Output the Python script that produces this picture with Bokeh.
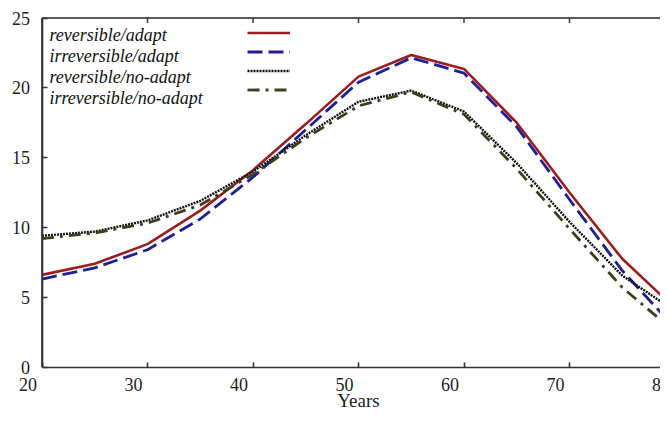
from bokeh.plotting import figure
from bokeh.models import (Range1d, FixedTicker, Legend, LegendItem,
                          LabelSet, Label, ColumnDataSource)
from bokeh.core.properties import value
from bokeh.embed import file_html
from bokeh.resources import INLINE

# ---- data ----
years = [20, 25, 30, 35, 40, 45, 50, 55, 60, 65, 70, 75, 80]
rev_adapt = [6.6, 7.4, 8.8, 11.2, 14.1, 17.4, 20.8, 22.35, 21.35, 17.5, 12.5, 7.75, 4.2]
irr_adapt = [6.3, 7.1, 8.4, 10.6, 13.6, 17.0, 20.4, 22.15, 21.05, 17.2, 12.0, 6.9, 2.8]
rev_noadapt = [9.4, 9.7, 10.5, 11.9, 14.0, 16.6, 19.0, 19.8, 18.3, 14.6, 10.4, 6.55, 4.0]
irr_noadapt = [9.2, 9.6, 10.3, 11.6, 13.8, 16.4, 18.7, 19.7, 18.1, 14.2, 9.9, 5.7, 2.5]
series_names = ["reversible/adapt", "irreversible/adapt",
                "reversible/no-adapt", "irreversible/no-adapt"]
xticks = [20, 30, 40, 50, 60, 70, 80]
xtick_labels = ["20", "30", "40", "50", "60", "70", "80"]
yticks = [0, 5, 10, 15, 20, 25]
x_title = "Years"

FONT = "Liberation Serif"
W, H = 660, 407
# screen geometry (pixels from top-left of the figure)
X0_PX, XPX_PER = 41.5, 10.55         # where x=20 sits, px per year
Y25_PX, Y0_PX = 17.5, 366.5          # where y=25 and y=0 sit
YPX_PER = (Y0_PX - Y25_PX) / 25.0

x_start = 20 - X0_PX / XPX_PER
x_end = 20 + (W - X0_PX) / XPX_PER
y_end = 25 + Y25_PX / YPX_PER
y_start = 0 - (H - Y0_PX) / YPX_PER

p = figure(width=W, height=H, output_backend="svg", toolbar_location=None,
           x_range=Range1d(x_start, x_end), y_range=Range1d(y_start, y_end),
           min_border_left=0, min_border_right=0, min_border_top=0,
           min_border_bottom=0)
p.outline_line_color = None
p.xgrid.visible = False
p.ygrid.visible = False
p.background_fill_color = "white"
p.border_fill_color = "white"

# frame lines (top and left) drawn from the tick lists
xmin, xmax = xticks[0], xticks[-1]
ymin, ymax = yticks[0], yticks[-1]
tick_len = 5 / YPX_PER
p.segment(x0=[xmin, xmin], y0=[ymax, ymin], x1=[xmax, xmin], y1=[ymax, ymax],
          line_color=["#5a5a5a", "#333333"], line_width=[2.2, 1.6])
p.segment(x0=xticks, y0=[ymax] * len(xticks), x1=xticks,
          y1=[ymax - tick_len] * len(xticks), line_color="#444444", line_width=1.6)

styles = [
    dict(color="#9c1c1f", width=2.6, dash="solid"),
    dict(color="#1c1f96", width=2.8, dash="15 6"),
    dict(color="#111111", width=2.4, dash="2 1"),
    dict(color="#3e3e1e", width=2.8, dash="12 6 3 6"),
]
series = [rev_adapt, irr_adapt, rev_noadapt, irr_noadapt]
renderers = []
for vals, st in zip(series, styles):
    r = p.line(years, vals, line_color=st["color"], line_width=st["width"],
               line_dash=st["dash"])
    renderers.append(r)

# bottom axis: line + inward ticks, fixed at y=0
xa = p.xaxis[0]
xa.fixed_location = 0
xa.bounds = (20, 80)
xa.ticker = FixedTicker(ticks=xticks)
xa.major_label_text_font_size = "0px"
xa.major_tick_in = 5
xa.major_tick_out = 0
xa.minor_tick_in = 0
xa.minor_tick_out = 0
xa.axis_line_color = "#333333"
xa.axis_line_width = 1.6
xa.major_tick_line_color = "#333333"
xa.major_tick_line_width = 1.6

# left axis fixed at x=20
ya = p.yaxis[0]
ya.fixed_location = 20
ya.bounds = (0, 25)
ya.ticker = FixedTicker(ticks=yticks)
ya.major_label_text_font = FONT
ya.major_label_text_font_size = "18px"
ya.major_label_text_color = "#222222"
ya.major_label_standoff = 12
ya.major_tick_in = 5
ya.major_tick_out = 0
ya.minor_tick_in = 0
ya.minor_tick_out = 0
ya.axis_line_color = "#333333"
ya.axis_line_width = 1.6
ya.major_tick_line_color = "#333333"
ya.major_tick_line_width = 1.6

# x tick labels (shifted left as in the original)
src = ColumnDataSource(dict(x=xticks, y=[0] * len(xticks), t=xtick_labels))
p.add_layout(LabelSet(x="x", y="y", text="t", source=src, x_offset=-14, y_offset=-17,
                      text_align="center", text_baseline="middle",
                      text_font=value(FONT), text_font_size="18px",
                      text_color="#222222"))

p.add_layout(Label(x=50, y=0, y_offset=-33.5, text=x_title, text_align="center",
                   text_baseline="middle", text_font=FONT,
                   text_font_size="19px", text_color="#222222"))

# legend text (left) and legend keys (right)
leg_y = [25 - (34.5 + 21 * i - Y25_PX) / YPX_PER for i in range(4)]
p.text(x=[20 + 7.5 / XPX_PER] * 4, y=leg_y, text=series_names, text_font=value(FONT),
       text_font_style="italic", text_font_size="18px", text_color="#111111",
       text_baseline="alphabetic", text_align="left")

legend = Legend(items=[LegendItem(label=" ", renderers=[r]) for r in renderers],
                location=(247, H - 98.5), glyph_width=43, glyph_height=19,
                label_height=19, label_width=1, label_standoff=0,
                label_text_font_size="1px", spacing=0, padding=0, margin=0,
                border_line_color=None, background_fill_alpha=0)
p.add_layout(legend, "center")

open("out.html", "w").write(file_html(p, INLINE))
